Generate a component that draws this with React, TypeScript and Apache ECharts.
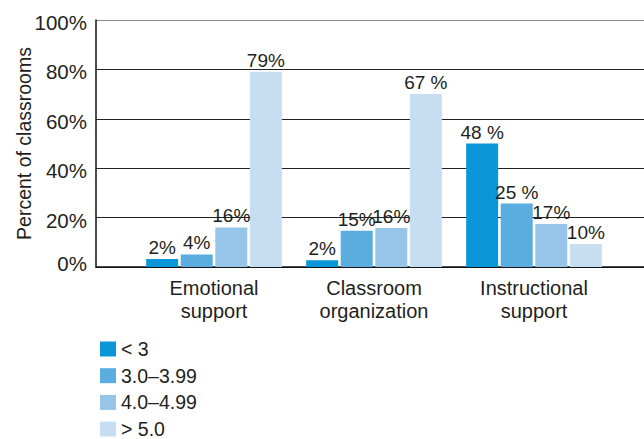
import React, { useEffect, useRef } from "react";
import * as echarts from "echarts";

const categories = ["Emotional\nsupport", "Classroom\norganization", "Instructional\nsupport"];
const seriesNames = ["< 3", "3.0–3.99", "4.0–4.99", "> 5.0"];
const lt3Values = [3.2, 2.7, 50];
const r3Values = [5.1, 14.7, 25.7];
const r4Values = [16, 15.8, 17.4];
const gt5Values = [79, 70, 9.3];
const lt3Labels = ["2%", "2%", "48 %"];
const r3Labels = ["4%", "15%", "25 %"];
const r4Labels = ["16%", "16%", "17%"];
const gt5Labels = ["79%", "67 %", "10%"];
const yTicks = [0, 20, 40, 60, 80, 100];
const yAxisTitle = "Percent of classrooms";

const colors = ["#0a96d8", "#5aadde", "#96c5e9", "#c6ddf2"];
const textColor = "#231f20";
const font = "'Liberation Sans', Arial, Helvetica, sans-serif";

export default function App() {
  const ref = useRef<HTMLDivElement>(null);
  useEffect(() => {
    if (!ref.current) return;
    const chart = echarts.init(ref.current, null, { renderer: "svg" });
    const values = [lt3Values, r3Values, r4Values, gt5Values];
    const labels = [lt3Labels, r3Labels, r4Labels, gt5Labels];
    chart.setOption({
      animation: false,
      textStyle: { fontFamily: font, color: textColor },
      grid: [
        { left: 96, right: 0, top: 20, bottom: 172 },
        { left: 134, width: 480, top: 20, bottom: 172 },
      ],
      xAxis: [
        {
          gridIndex: 0,
          type: "value",
          min: 0,
          max: 1,
          axisLine: { show: true, onZero: false, lineStyle: { color: "#111", width: 1.5 } },
          axisTick: { show: false },
          axisLabel: { show: false },
          splitLine: { show: false },
        },
        {
          gridIndex: 1,
          type: "category",
          data: categories,
          axisLine: { show: false },
          axisTick: { show: false },
          axisLabel: {
            fontSize: 20,
            lineHeight: 22.5,
            margin: 10,
            color: textColor,
            fontFamily: font,
          },
        },
      ],
      yAxis: [
        {
          gridIndex: 0,
          type: "value",
          min: yTicks[0],
          max: yTicks[yTicks.length - 1],
          interval: 20,
          axisLine: { show: true, lineStyle: { color: "#111", width: 1.5 } },
          axisTick: { show: false },
          axisLabel: {
            margin: 9,
            fontSize: 20.5,
            color: textColor,
            fontFamily: font,
            formatter: (v: number) => (v === 0 ? `{z|${v}%}` : `{a|${v}%}`),
            rich: {
              a: { fontSize: 20.5, color: textColor, fontFamily: font, padding: [5, 0, 0, 0] },
              z: { fontSize: 20.5, color: textColor, fontFamily: font, padding: [0, 0, 7, 0] },
            },
          },
          splitLine: {
            show: true,
            lineStyle: {
              color: ["#222", "#222", "#222", "#222", "#222", "#8c8c8c"],
              width: 1.2,
            },
          },
        },
        {
          gridIndex: 1,
          type: "value",
          min: 0,
          max: 100,
          show: false,
          splitLine: { show: false },
        },
      ],
      legend: {
        orient: "vertical",
        left: 100,
        top: 339,
        height: 200,
        padding: 0,
        itemWidth: 16,
        itemHeight: 15,
        itemGap: 6.7,
        icon: "rect",
        data: seriesNames,
        textStyle: { fontSize: 19.5, color: textColor, fontFamily: font, lineHeight: 20 },
      },
      graphic: [
        {
          type: "text",
          x: 23.5,
          y: 143.5,
          rotation: Math.PI / 2,
          style: {
            text: yAxisTitle,
            fontSize: 19.5,
            fontFamily: font,
            fill: textColor,
            align: "center",
            verticalAlign: "middle",
          },
        },
      ],
      series: seriesNames.map((name, i) => ({
        name,
        type: "bar",
        xAxisIndex: 1,
        yAxisIndex: 1,
        barWidth: 32,
        barGap: "8%",
        itemStyle: { color: colors[i] },
        data: values[i],
        label: {
          show: true,
          position: "top",
          distance: 2,
          fontSize: 19,
          color: textColor,
          fontFamily: font,
          formatter: (p: any) => labels[i][p.dataIndex],
        },
      })),
    });
    return () => chart.dispose();
  }, []);
  return (
    <div
      ref={ref}
      style={{ position: "fixed", left: 0, top: 0, width: 644, height: 439, background: "#fff" }}
    />
  );
}
